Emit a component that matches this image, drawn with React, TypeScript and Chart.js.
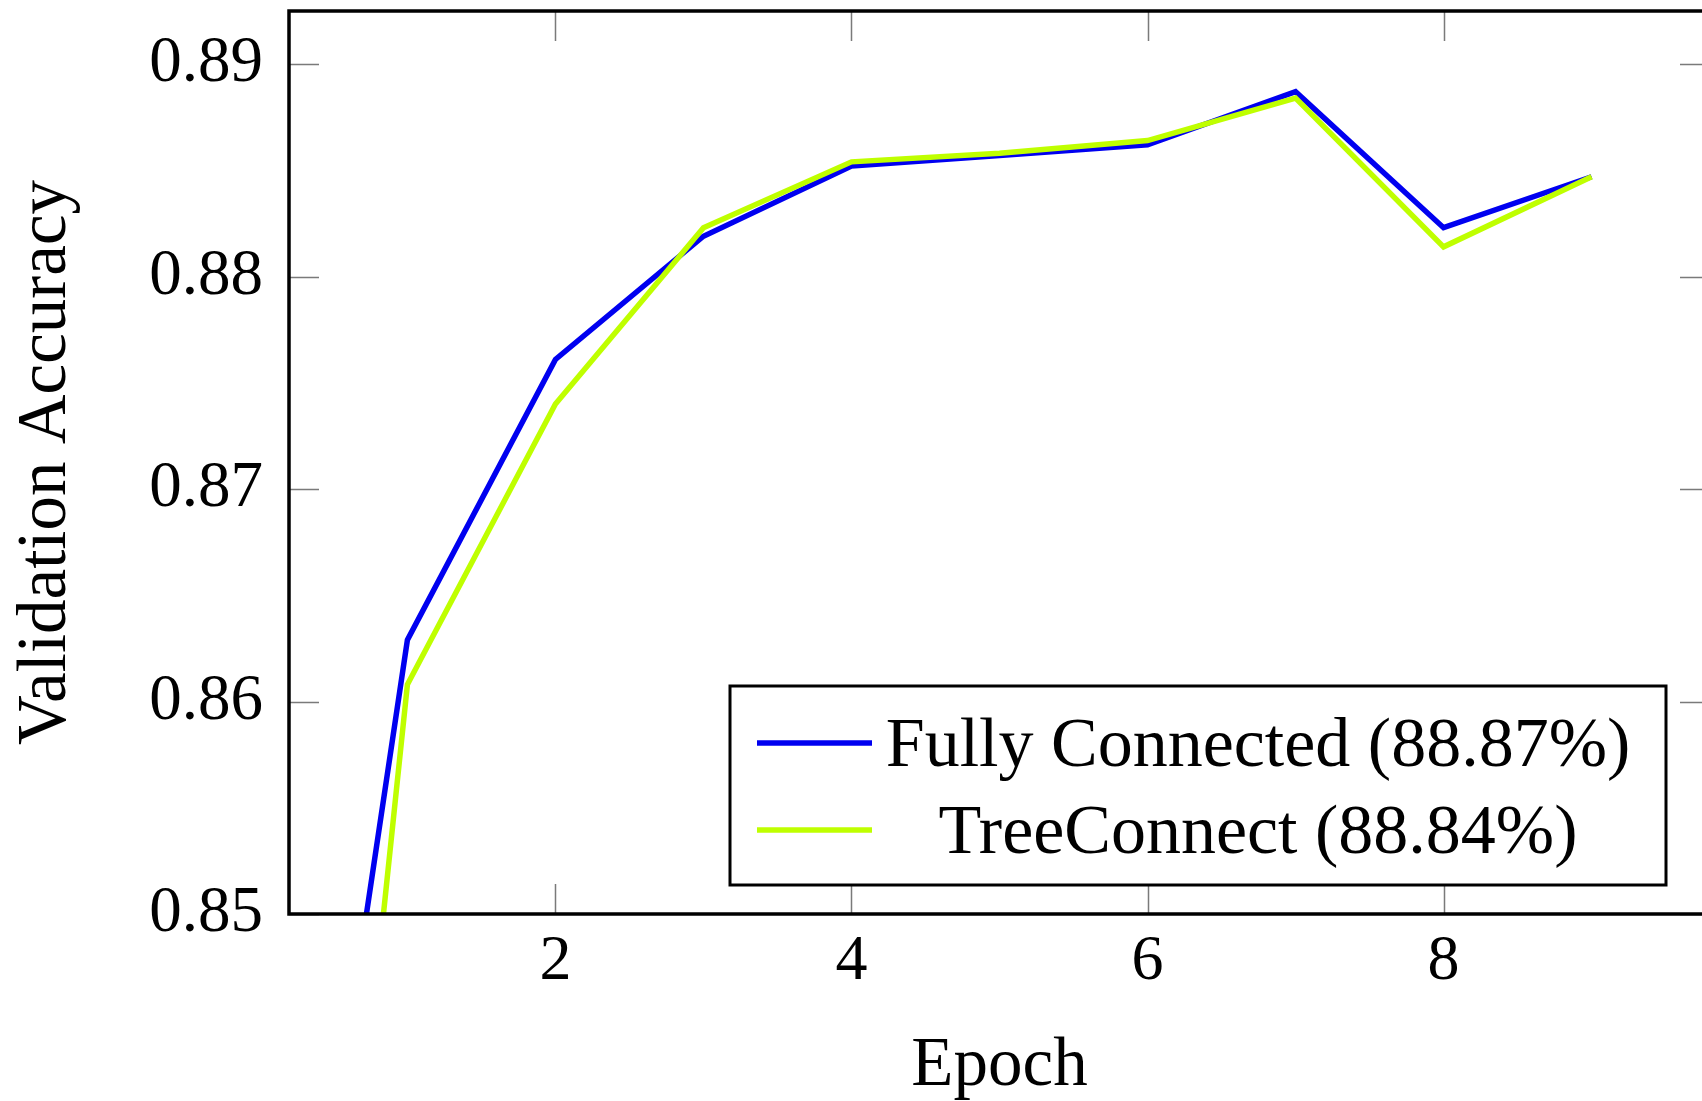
import React, { useEffect, useRef } from 'react';
import { Chart, registerables } from 'chart.js';

Chart.register(...registerables);

// ---- data ----
const epochs = [0, 1, 2, 3, 4, 5, 6, 7, 8, 9];
const fullyConnected = [0.8163, 0.8629, 0.8761, 0.8819, 0.8852, 0.8857, 0.8862, 0.8887, 0.8823, 0.8847];
const treeConnect = [0.7941, 0.8608, 0.874, 0.8823, 0.8854, 0.8858, 0.8864, 0.8884, 0.8814, 0.8847];
const seriesLabels = ['Fully Connected (88.87%)', 'TreeConnect (88.84%)'];
const seriesColors = ['#0000f0', '#bfff00'];
const xTicks = [2, 4, 6, 8];
const xTickLabels = ['2', '4', '6', '8'];
const yTicks = [0.85, 0.86, 0.87, 0.88, 0.89];
const yTickLabels = ['0.85', '0.86', '0.87', '0.88', '0.89'];
const xTitle = 'Epoch';
const yTitle = 'Validation Accuracy';

const FAMILY = '"Liberation Serif", "Times New Roman", serif';

const framePlugin = {
  id: 'frameAndLegend',
  afterDatasetsDraw(chart: any) {
    const { ctx, chartArea } = chart;
    const { left, right, top, bottom } = chartArea;
    const xs = chart.scales.x;
    const ys = chart.scales.y;
    const tl = 30;
    ctx.save();
    // inner ticks
    ctx.strokeStyle = '#7a7a7a';
    ctx.lineWidth = 1.5;
    ctx.beginPath();
    xTicks.forEach((v) => {
      const px = Math.round(xs.getPixelForValue(v)) + 0.5;
      ctx.moveTo(px, bottom);
      ctx.lineTo(px, bottom - tl);
      ctx.moveTo(px, top);
      ctx.lineTo(px, top + tl);
    });
    yTicks.forEach((v) => {
      const py = Math.round(ys.getPixelForValue(v)) + 0.5;
      ctx.moveTo(left, py);
      ctx.lineTo(left + tl, py);
      ctx.moveTo(right, py);
      ctx.lineTo(right - tl, py);
    });
    ctx.stroke();
    // frame
    ctx.strokeStyle = '#000';
    ctx.lineWidth = 3.5;
    ctx.strokeRect(left, top, right - left, bottom - top);

    // legend
    const lgRight = right - 44;
    const lgBottom = bottom - 29;
    const lgLeft = left + 441;
    const lgTop = bottom - 228;
    ctx.fillStyle = '#fff';
    ctx.fillRect(lgLeft, lgTop, lgRight - lgLeft, lgBottom - lgTop);
    ctx.strokeStyle = '#000';
    ctx.lineWidth = 3;
    ctx.strokeRect(lgLeft, lgTop, lgRight - lgLeft, lgBottom - lgTop);
    const rows = [lgTop + 57, lgTop + 144];
    const textCenter = lgLeft + 528;
    ctx.font = `70px ${FAMILY}`;
    ctx.textAlign = 'center';
    ctx.textBaseline = 'alphabetic';
    chart.data.datasets.forEach((ds: any, i: number) => {
      const y = rows[i];
      ctx.strokeStyle = ds.borderColor;
      ctx.lineWidth = 5.5;
      ctx.beginPath();
      ctx.moveTo(lgLeft + 27, y);
      ctx.lineTo(lgLeft + 142, y);
      ctx.stroke();
      ctx.fillStyle = '#000';
      ctx.fillText(ds.label, textCenter, y + 23);
    });
    ctx.restore();
  },
};

export default function App() {
  const ref = useRef<HTMLCanvasElement>(null);
  useEffect(() => {
    const canvas = ref.current!;
    const chart = new Chart(canvas, {
      type: 'line',
      data: {
        datasets: [
          {
            label: seriesLabels[0],
            data: epochs.map((x, i) => ({ x, y: fullyConnected[i] })),
            borderColor: seriesColors[0],
            backgroundColor: seriesColors[0],
            borderWidth: 5.5,
            pointRadius: 0,
            tension: 0,
            order: 1,
            clip: 0,
          },
          {
            label: seriesLabels[1],
            data: epochs.map((x, i) => ({ x, y: treeConnect[i] })),
            borderColor: seriesColors[1],
            backgroundColor: seriesColors[1],
            borderWidth: 5.5,
            pointRadius: 0,
            tension: 0,
            order: 0,
            clip: 0,
          },
        ],
      },
      options: {
        animation: false,
        responsive: false,
        devicePixelRatio: 1,
        layout: { padding: { top: 11, right: 20, left: 0, bottom: 0 } },
        plugins: { legend: { display: false }, tooltip: { enabled: false } },
        scales: {
          x: {
            type: 'linear',
            min: 0.2,
            max: 9.8,
            grid: { display: false, drawTicks: false },
            border: { display: false },
            afterBuildTicks: (s: any) => {
              s.ticks = xTicks.map((v) => ({ value: v }));
            },
            afterFit: (s: any) => {
              s.height = 187;
              s.paddingLeft = 0;
              s.paddingRight = 0;
            },
            ticks: {
              autoSkip: false,
              maxRotation: 0,
              color: '#000',
              padding: 10,
              font: { family: FAMILY, size: 64, lineHeight: 1.2 },
              callback: (_v: any, i: number) => xTickLabels[i],
            },
            title: {
              display: true,
              text: xTitle,
              color: '#000',
              font: { family: FAMILY, size: 69, lineHeight: 1.0 },
              padding: { top: 0, bottom: 0 },
            },
          },
          y: {
            type: 'linear',
            min: 0.85,
            max: 0.8925,
            grid: { display: false, drawTicks: false },
            border: { display: false },
            afterBuildTicks: (s: any) => {
              s.ticks = yTicks.map((v) => ({ value: v }));
            },
            afterFit: (s: any) => {
              s.width = 289;
              s.paddingTop = 0;
              s.paddingBottom = 0;
            },
            ticks: {
              autoSkip: false,
              color: '#000',
              padding: 26,
              font: { family: FAMILY, size: 65, lineHeight: 1.2 },
              callback: (_v: any, i: number) => yTickLabels[i],
            },
            title: {
              display: true,
              text: yTitle,
              color: '#000',
              font: { family: FAMILY, size: 69, lineHeight: 1.2 },
              padding: { top: 5, bottom: 0 },
            },
          },
        },
      },
      plugins: [framePlugin],
    });
    return () => chart.destroy();
  }, []);

  return (
    <div
      style={{
        position: 'fixed',
        left: 0,
        top: 0,
        width: 1702,
        height: 1101,
        overflow: 'hidden',
        background: '#fff',
      }}
    >
      <canvas ref={ref} width={1730} height={1101} style={{ display: 'block' }} />
    </div>
  );
}
